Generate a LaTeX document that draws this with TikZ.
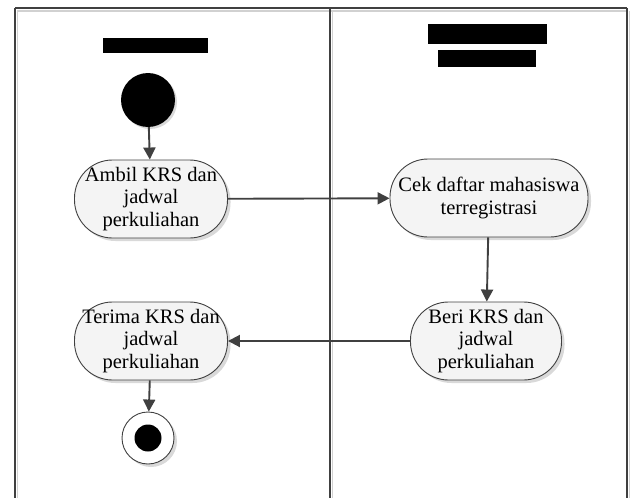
\documentclass[tikz,border=0pt]{standalone}
\usepackage{fontspec}
\setmainfont{Liberation Serif}
\usetikzlibrary{shadows,arrows.meta}
\definecolor{edge}{HTML}{404040}
\definecolor{actfill}{HTML}{F4F4F4}
\tikzset{
  lane/.style={draw=edge, line width=1.4pt},
  laneshadow/.style={draw=black!18, line width=1.2pt},
  activity/.style={rectangle, rounded corners=38pt, draw=edge, line width=0.9pt, fill=actfill,
    minimum height=78pt, align=center, inner sep=0pt,
    font=\fontsize{20.5}{22.5}\selectfont,
    drop shadow={shadow xshift=3pt, shadow yshift=-3pt, fill=black!25, opacity=0.6}},
  flow/.style={draw=edge, line width=1.9pt, -{Triangle[length=12pt,width=12pt]}},
  bar/.style={fill=black}
}
\begin{document}
\begin{tikzpicture}[x=1pt,y=-1pt]
  \useasboundingbox (0,0) rectangle (633,498);
  % swimlane frame with its light shadow lines
  \draw[laneshadow] (17,11) -- (626,11);
  \draw[laneshadow] (17.5,11) -- (17.5,498);
  \draw[laneshadow] (332.5,11) -- (332.5,498);
  \draw[laneshadow] (629.5,11) -- (629.5,498);
  \draw[lane] (15,8) -- (627,8);
  \draw[lane] (15,8) -- (15,498);
  \draw[lane] (330,8) -- (330,498);
  \draw[lane] (627,8) -- (627,498);
  % lane titles
  \fill[bar] (103,38) rectangle (208,53);
  \fill[bar] (428,24) rectangle (547,44);
  \fill[bar] (438,50) rectangle (536,67);
  % start and end states
  \node[circle, fill=black, minimum size=54pt, inner sep=0pt,
    drop shadow={shadow xshift=2pt, shadow yshift=-2pt, fill=black!25, opacity=0.6}] (start) at (148,100) {};
  \node[circle, draw=edge, line width=0.9pt, fill=white, minimum size=52pt, inner sep=0pt,
    drop shadow={shadow xshift=3pt, shadow yshift=-3pt, fill=black!25, opacity=0.6}] (stop) at (148,438) {};
  \node[circle, fill=black, minimum size=27pt, inner sep=0pt] (stopdot) at (stop.center) {};
  % activities
  \node[activity, minimum width=153pt] (ambil) at (151,199) {Ambil KRS dan\\jadwal\\perkuliahan};
  \node[activity, minimum width=198pt] (cek) at (489,198) {Cek daftar mahasiswa\\terregistrasi};
  \node[activity, minimum width=151pt] (beri) at (486,341) {Beri KRS dan\\jadwal\\perkuliahan};
  \node[activity, minimum width=153pt] (terima) at (151,341) {Terima KRS dan\\jadwal\\perkuliahan};
  % control flow
  \draw[flow] (start) -- (ambil);
  \draw[flow] (ambil) -- (cek);
  \draw[flow] (cek) -- (beri);
  \draw[flow] (beri) -- (terima);
  \draw[flow] (terima) -- (stop);
\end{tikzpicture}
\end{document}
